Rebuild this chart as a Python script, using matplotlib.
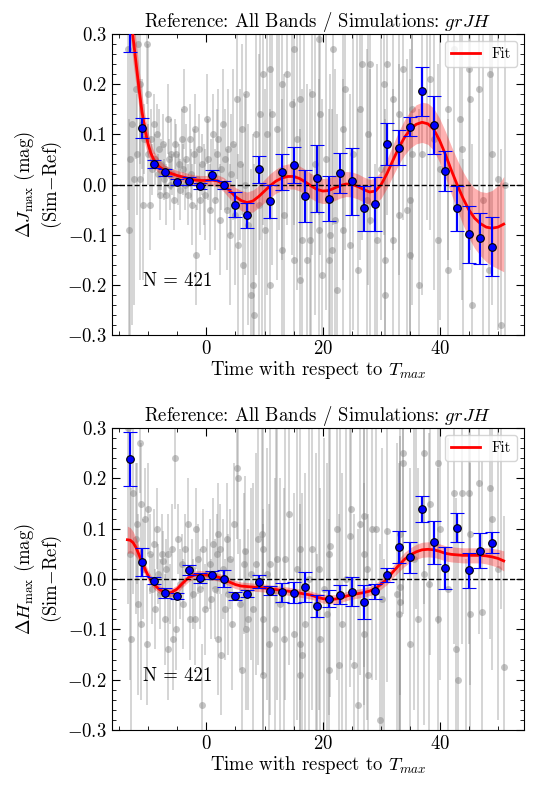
import numpy as np
import matplotlib
matplotlib.use("Agg")
import matplotlib.pyplot as plt
from matplotlib.ticker import MultipleLocator

plt.rcParams['font.family'] = 'cmr10'
plt.rcParams['mathtext.fontset'] = 'cm'
plt.rcParams['axes.formatter.use_mathtext'] = True
plt.rcParams['font.size'] = 13.5

# ---------------- data ----------------
bin_t = np.arange(-13, 50, 2)

j_bin = [0.32, 0.112, 0.041, 0.024, 0.005, 0.007, -0.003, 0.019, -0.001, -0.040,
         -0.061, 0.030, -0.033, 0.025, 0.039, -0.023, 0.012, -0.028, 0.023, 0.006,
         -0.047, -0.039, 0.081, 0.073, 0.115, 0.186, 0.119, 0.027, -0.047, -0.099,
         -0.107, -0.124]
j_bin_err = [0.056, 0.020, 0.008, 0.007, 0.006, 0.007, 0.006, 0.010, 0.008, 0.025,
             0.025, 0.027, 0.033, 0.036, 0.036, 0.052, 0.067, 0.044, 0.040, 0.067,
             0.045, 0.053, 0.042, 0.035, 0.019, 0.049, 0.058, 0.039, 0.045, 0.057,
             0.051, 0.059]

h_bin = [0.239, 0.034, -0.003, -0.027, -0.033, 0.017, 0.002, 0.008, 0.001, -0.033,
         -0.029, -0.005, -0.023, -0.026, -0.027, -0.016, -0.053, -0.039, -0.031, -0.025,
         -0.045, -0.024, 0.008, 0.063, 0.043, 0.139, 0.073, 0.022, 0.102, 0.017,
         0.056, 0.072]
h_bin_err = [0.054, 0.028, 0.007, 0.010, 0.006, 0.010, 0.010, 0.008, 0.016, 0.008,
             0.007, 0.013, 0.009, 0.019, 0.021, 0.029, 0.022, 0.017, 0.019, 0.029,
             0.034, 0.015, 0.013, 0.032, 0.031, 0.025, 0.043, 0.041, 0.029, 0.034,
             0.035, 0.021]

fit_t = [-13.5, -13, -12.5, -12, -11.5, -11, -10.5, -10, -9.5, -9, -8, -7, -6, -5, -4,
         -3, -2, -1, 0, 1, 2, 3, 4, 5, 6, 7, 8, 9, 10, 11, 12, 13, 14, 15, 16, 17, 18,
         19, 20, 21, 22, 23, 24, 25, 26, 27, 28, 29, 30, 31, 32, 33, 34, 35, 36, 37, 38,
         39, 40, 41, 42, 43, 44, 45, 46, 47, 48, 49, 50, 51]

j_fit = [0.42, 0.36, 0.29, 0.24, 0.19, 0.145, 0.11, 0.083, 0.063, 0.050, 0.035, 0.027,
         0.022, 0.018, 0.015, 0.012, 0.009, 0.008, 0.008, 0.009, 0.007, 0.000, -0.012,
         -0.024, -0.032, -0.036, -0.033, -0.024, -0.013, -0.002, 0.007, 0.013, 0.016,
         0.016, 0.012, 0.005, -0.003, -0.010, -0.013, -0.012, -0.007, -0.002, 0.001,
         0.000, -0.004, -0.010, -0.015, -0.013, 0.000, 0.022, 0.048, 0.073, 0.094,
         0.110, 0.120, 0.124, 0.121, 0.110, 0.088, 0.060, 0.029, 0.000, -0.027, -0.050,
         -0.067, -0.078, -0.085, -0.087, -0.085, -0.079]
j_fit_err = [0.07, 0.06, 0.05, 0.045, 0.04, 0.035, 0.03, 0.025, 0.02, 0.017, 0.013, 0.011,
             0.010, 0.010, 0.010, 0.010, 0.010, 0.010, 0.010, 0.011, 0.012, 0.014, 0.016,
             0.018, 0.020, 0.021, 0.022, 0.022, 0.023, 0.024, 0.024, 0.025, 0.025, 0.025,
             0.025, 0.025, 0.025, 0.025, 0.025, 0.025, 0.025, 0.025, 0.025, 0.025,
             0.025, 0.025, 0.025, 0.026, 0.027, 0.029, 0.031, 0.033, 0.035, 0.037,
             0.039, 0.040, 0.041, 0.042, 0.044, 0.046, 0.048, 0.050, 0.053, 0.056,
             0.060, 0.064, 0.069, 0.075, 0.083, 0.095]

h_fit = [0.078, 0.077, 0.072, 0.062, 0.048, 0.033, 0.020, 0.008, -0.002, -0.010, -0.021,
         -0.027, -0.027, -0.020, -0.008, 0.003, 0.008, 0.009, 0.008, 0.006, 0.004, 0.000,
         -0.006, -0.011, -0.014, -0.015, -0.016, -0.017, -0.018, -0.020, -0.021, -0.023,
         -0.024, -0.026, -0.028, -0.030, -0.032, -0.036, -0.039, -0.040, -0.040, -0.038,
         -0.034, -0.031, -0.029, -0.027, -0.024, -0.019, -0.010, 0.000, 0.014, 0.027,
         0.039, 0.048, 0.054, 0.058, 0.059, 0.058, 0.055, 0.051, 0.049, 0.048, 0.047,
         0.047, 0.047, 0.047, 0.046, 0.044, 0.041, 0.036]
h_fit_err = [0.027, 0.025, 0.022, 0.019, 0.016, 0.014, 0.012, 0.011, 0.010, 0.009, 0.008,
             0.008, 0.008, 0.008, 0.008, 0.008, 0.008, 0.008, 0.008, 0.008, 0.008, 0.008,
             0.008, 0.008, 0.008, 0.008, 0.008, 0.008, 0.008, 0.008, 0.008, 0.008,
             0.008, 0.008, 0.008, 0.008, 0.008, 0.008, 0.009, 0.009, 0.009, 0.009,
             0.009, 0.009, 0.009, 0.009, 0.009, 0.010, 0.010, 0.011, 0.012, 0.013,
             0.014, 0.014, 0.015, 0.015, 0.015, 0.015, 0.015, 0.015, 0.015, 0.015,
             0.015, 0.015, 0.015, 0.015, 0.016, 0.017, 0.018, 0.020]

# individual SNe (grey points): time, residual, uncertainty
j_pt_t = [-13.4, -13.2, -13.0, -12.7, -12.4, -12.1, -11.8, -11.6, -11.4, -11.3,
          -11.0, -10.8, -10.6, -10.2, -10.0, -9.9, -9.6, -9.4, -9.2,
          -8.9, -8.7, -8.5, -8.3, -8.1, -7.9, -7.7, -7.4, -7.2, -7.0,
          -6.8, -6.6, -6.4, -6.2, -6.0, -5.8, -5.5, -5.4, -5.1, -4.9,
          -4.7, -4.4, -4.2, -3.9, -3.8, -3.6, -3.4, -3.1, -2.8, -2.6,
          -2.4, -2.1, -1.9, -1.8, -1.5, -1.2, -1.0, -0.7, -0.4, -0.2,
          0.1, 0.3, 0.6, 0.9, 1.2, 1.5, 1.8, 2.1, 2.3, 2.6,
          2.9, 3.2, 3.5, 3.8, 4.1, 4.3, 4.6, 4.9, 5.2, 5.5,
          5.8, 6.1, 6.3, 6.6, 6.9, 7.2,
          7.6, 8.0, 8.2, 8.6, 9.0, 9.3, 9.8, 10.1, 10.4, 11.0,
          11.0, 11.3, 12.1, 13.0, 13.0, 13.3, 13.8, 14.7, 15.0, 15.0,
          15.5, 16.1, 16.1, 16.4, 17.3, 17.8, 18.1, 18.6, 19.3, 19.3,
          19.5, 19.8, 20.5, 21.0, 21.3, 21.6, 21.8, 22.1, 22.4, 23.5,
          23.5, 23.8, 24.7, 25.2, 26.1, 26.4, 26.7, 27.5, 27.8, 28.1,
          28.1, 29.3, 30.0, 30.4, 30.7, 30.7, 31.0,
          32.1, 32.1, 33.0, 33.0, 33.8, 34.4, 35.0, 35.0, 35.3, 35.3,
          36.5, 37.0, 38.4, 39.0, 39.8, 40.1, 41.5, 41.5, 42.5, 43.5,
          43.8, 45.0, 45.3, 45.6, 46.7, 47.5, 48.4, 48.7, 49.0, 50.1,
          50.6, 51.3,
          9.5, 12.5, 16.8, 18.0, 25.8, 29.0, 37.8, 44.0]
j_pt_y = [0.27, -0.09, 0.05, 0.12, 0.01, 0.19, 0.06, 0.28, 0.20, 0.01,
          0.12, -0.04, 0.09, 0.28, 0.06, 0.18, -0.04, 0.09, 0.03,
          0.12, 0.05, 0.10, 0.02, 0.07, -0.02, 0.04, 0.08, 0.01, 0.03,
          -0.02, 0.13, 0.05, 0.00, 0.06, 0.02, -0.03, 0.08, 0.06, 0.01,
          0.04, -0.01, 0.09, 0.03, 0.15, 0.00, 0.05, -0.02, 0.09, 0.02,
          -0.04, 0.06, 0.11, -0.14, 0.01, 0.07, -0.03, 0.04, 0.00, -0.02,
          0.13, 0.05, -0.05, 0.02, 0.10, -0.03, 0.06, 0.09, -0.07, 0.03,
          0.12, 0.05, -0.05, 0.07, -0.10, 0.02, 0.08, -0.06, 0.17, -0.12,
          0.04, 0.11, -0.16, 0.00, 0.18, -0.08,
          -0.22, -0.20, -0.26, 0.10, -0.04, 0.14, 0.22, -0.09, 0.10, 0.23,
          -0.20, 0.14, 0.11, 0.20, -0.13, -0.06, 0.22, 0.16, 0.27, -0.15,
          0.09, 0.17, -0.19, -0.11, -0.15, -0.11, 0.18, 0.04, 0.29, -0.09,
          0.14, -0.18, 0.05, -0.15, -0.10, -0.13, 0.27, -0.07, -0.21, 0.11,
          -0.09, 0.19, -0.12, 0.06, -0.17, 0.15, 0.24, -0.03, 0.10, 0.24,
          -0.07, -0.11, 0.03, 0.20, -0.15, -0.22, 0.24,
          0.17, -0.11, 0.14, -0.06, 0.23, -0.05, -0.14, -0.03, 0.15, 0.06,
          -0.20, 0.06, 0.21, 0.09, -0.11, 0.03, 0.15, -0.17, 0.27, 0.13,
          0.07, 0.23, 0.17, -0.24, 0.19, -0.03, -0.17, 0.22, 0.06, 0.01,
          -0.28, 0.00,
          -0.33, 0.36, 0.33, -0.38, 0.34, -0.36, 0.33, -0.35]
j_pt_e = [0.32, 0.22, 0.35, 0.40, 0.25, 0.14, 0.12, 0.10, 0.16, 0.20,
          0.09, 0.15, 0.07, 0.12, 0.06, 0.10, 0.09, 0.06, 0.05,
          0.06, 0.05, 0.06, 0.04, 0.08, 0.05, 0.05, 0.06, 0.04, 0.05,
          0.06, 0.07, 0.04, 0.05, 0.07, 0.04, 0.06, 0.05, 0.06, 0.05,
          0.04, 0.06, 0.06, 0.05, 0.08, 0.05, 0.07, 0.06, 0.07, 0.05,
          0.08, 0.05, 0.07, 0.10, 0.06, 0.07, 0.07, 0.06, 0.08, 0.09,
          0.09, 0.08, 0.09, 0.07, 0.08, 0.10, 0.09, 0.10, 0.11, 0.08,
          0.11, 0.10, 0.12, 0.12, 0.14, 0.12, 0.15, 0.14, 0.16, 0.18,
          0.15, 0.17, 0.20, 0.18, 0.22, 0.20,
          0.25, 0.30, 0.30, 0.28, 0.30, 0.25, 0.30, 0.28, 0.32, 0.30,
          0.35, 0.30, 0.30, 0.35, 0.30, 0.28, 0.30, 0.30, 0.35, 0.32,
          0.30, 0.35, 0.30, 0.30, 0.35, 0.30, 0.32, 0.30, 0.35, 0.30,
          0.28, 0.35, 0.30, 0.30, 0.32, 0.28, 0.35, 0.30, 0.35, 0.30,
          0.30, 0.32, 0.30, 0.35, 0.32, 0.30, 0.35, 0.30, 0.30, 0.32,
          0.30, 0.35, 0.30, 0.30, 0.30, 0.35, 0.30,
          0.30, 0.30, 0.32, 0.30, 0.30, 0.30, 0.35, 0.30, 0.30, 0.30,
          0.35, 0.28, 0.30, 0.30, 0.35, 0.30, 0.30, 0.30, 0.32, 0.30,
          0.30, 0.35, 0.30, 0.32, 0.30, 0.35, 0.30, 0.30, 0.30, 0.30,
          0.35, 0.30,
          0.35, 0.45, 0.35, 0.40, 0.40, 0.40, 0.40, 0.40]

h_pt_t = [-13.4, -13.1, -12.8, -12.5, -12.1, -11.9, -11.6, -11.3, -11.1, -11.1,
          -10.8, -10.5, -10.2, -9.9, -9.6, -9.3,
          -9.0, -8.7, -8.5, -8.2, -7.9, -7.6, -7.4, -7.1, -6.8, -6.5,
          -6.5, -6.2, -5.9, -5.6, -5.4, -5.1, -4.8, -4.5, -4.2, -3.9,
          -3.6, -3.1, -2.8, -2.5, -2.2, -1.9, -1.7, -1.4, -1.1, -0.8,
          -0.5, -0.2, 0.1, 0.6, 0.9, 1.2, 1.5, 1.8, 2.1, 2.1,
          2.3, 2.6, 2.9, 3.2, 3.5, 3.8, 4.1, 4.4, 4.7, 5.2,
          5.5, 5.8, 6.1, 6.4, 6.6, 6.9, 7.2, 7.6,
          8.1, 8.5, 8.9, 9.5, 9.8, 9.8, 9.8, 10.4, 10.7, 11.0,
          11.8, 12.1, 12.6, 13.3, 13.5, 14.2, 15.0, 15.5, 16.1, 16.1,
          16.4, 16.1, 17.0, 17.6, 18.1, 18.8, 19.3, 19.5, 20.2, 20.7,
          21.0, 21.0, 21.3, 22.4, 22.7, 23.2, 24.0, 24.7, 24.9, 25.3,
          26.1, 26.4, 27.0, 27.0, 27.0, 27.6, 27.8, 28.4, 29.1, 29.8,
          30.2, 31.0,
          32.7, 33.0, 33.3, 33.3, 33.3, 33.8, 33.8, 35.0, 35.6, 36.3,
          37.3, 37.3, 38.2, 38.4, 39.7, 39.8, 40.1, 41.5, 42.4, 42.9,
          43.1, 43.8, 45.1, 45.3, 45.3, 46.8, 47.3, 48.7, 49.0, 50.0,
          51.0,
          12.0, 19.0, 23.0, 30.5, 36.0, 44.5, 50.5]
h_pt_y = [0.30, 0.05, -0.12, 0.17, 0.08, 0.11, -0.05, 0.27, 0.15, -0.09,
          0.02, 0.12, -0.13, 0.14, 0.05, -0.02,
          0.07, -0.06, 0.10, 0.01, -0.03, 0.05, 0.035, -0.08, 0.02, 0.05,
          -0.14, -0.03, 0.06, -0.12, 0.24, -0.10, 0.08, -0.01, 0.03, -0.05,
          0.06, 0.11, -0.08, 0.02, -0.03, -0.08, 0.10, 0.04, -0.02, -0.25,
          0.06, -0.06, 0.01, 0.03, -0.04, 0.07, -0.02, 0.05, 0.09, -0.12,
          0.06, -0.15, 0.02, -0.06, 0.08, -0.03, 0.04, -0.09, 0.11, 0.22,
          0.20, -0.05, -0.18, 0.03, 0.055, -0.10, -0.08, 0.01,
          -0.06, 0.03, 0.08, 0.09, 0.06, -0.08, -0.19, 0.01, -0.13, 0.03,
          -0.10, 0.04, -0.05, -0.12, 0.04, 0.13, -0.11, 0.02, 0.06, -0.13,
          -0.15, -0.19, -0.09, 0.00, 0.06, -0.05, 0.02, -0.12, -0.02, -0.07,
          0.05, -0.18, 0.065, 0.10, -0.17, -0.09, 0.00, 0.085, 0.14, -0.17,
          -0.25, 0.11, 0.125, 0.05, -0.11, 0.02, -0.19, 0.10, 0.10, -0.28,
          -0.04, 0.095,
          -0.03, -0.07, 0.09, -0.015, -0.045, 0.25, 0.23, -0.13, 0.04, -0.08,
          0.25, 0.01, -0.01, 0.15, -0.08, 0.23, 0.10, -0.02, 0.17, -0.14,
          -0.20, 0.17, 0.17, 0.09, -0.07, 0.19, -0.065, 0.18, 0.12, 0.02,
          -0.175,
          0.35, -0.35, 0.36, -0.34, 0.34, -0.36, 0.34]
h_pt_e = [0.35, 0.25, 0.30, 0.20, 0.15, 0.12, 0.18, 0.10, 0.12, 0.15,
          0.10, 0.10, 0.12, 0.09, 0.08, 0.07,
          0.07, 0.08, 0.08, 0.06, 0.07, 0.08, 0.06, 0.09, 0.06, 0.08,
          0.10, 0.06, 0.09, 0.10, 0.10, 0.08, 0.07, 0.07, 0.06, 0.09,
          0.07, 0.09, 0.08, 0.06, 0.07, 0.09, 0.08, 0.07, 0.08, 0.12,
          0.08, 0.09, 0.07, 0.09, 0.08, 0.09, 0.10, 0.08, 0.10, 0.11,
          0.09, 0.12, 0.10, 0.10, 0.11, 0.12, 0.10, 0.13, 0.12, 0.14,
          0.15, 0.13, 0.16, 0.14, 0.15, 0.16, 0.18, 0.17,
          0.25, 0.22, 0.25, 0.28, 0.25, 0.22, 0.30, 0.25, 0.28, 0.30,
          0.30, 0.28, 0.25, 0.30, 0.28, 0.30, 0.28, 0.30, 0.30, 0.28,
          0.32, 0.30, 0.30, 0.30, 0.32, 0.30, 0.28, 0.30, 0.30, 0.30,
          0.32, 0.30, 0.30, 0.30, 0.30, 0.30, 0.32, 0.30, 0.30, 0.30,
          0.35, 0.30, 0.30, 0.30, 0.30, 0.30, 0.32, 0.30, 0.30, 0.35,
          0.30, 0.30,
          0.30, 0.30, 0.32, 0.30, 0.28, 0.30, 0.30, 0.35, 0.30, 0.30,
          0.30, 0.30, 0.30, 0.30, 0.30, 0.32, 0.30, 0.30, 0.30, 0.30,
          0.30, 0.30, 0.30, 0.30, 0.30, 0.30, 0.30, 0.30, 0.30, 0.30,
          0.30,
          0.40, 0.40, 0.40, 0.38, 0.40, 0.40, 0.40]

n_sn = 421
title = "Reference: All Bands / Simulations: $grJH$"

panels = [
    (j_pt_t, j_pt_y, j_pt_e, j_bin, j_bin_err, j_fit, j_fit_err,
     "$\\Delta J_{\\rm max}$ (mag)\n(Sim$-$Ref)"),
    (h_pt_t, h_pt_y, h_pt_e, h_bin, h_bin_err, h_fit, h_fit_err,
     "$\\Delta H_{\\rm max}$ (mag)\n(Sim$-$Ref)"),
]

fig = plt.figure(figsize=(5.5, 7.91), dpi=100)
axes = [fig.add_axes([0.203, 0.5765, 0.750, 0.3805]),
        fig.add_axes([0.203, 0.0771, 0.750, 0.3818])]

for ax, (pt, py, pe, by, be, fy, fe, ylab) in zip(axes, panels):
    # individual objects
    ax.errorbar(pt, py, yerr=pe, fmt='none', ecolor='gray', elinewidth=1.3,
                alpha=0.35, zorder=1)
    ax.plot(pt, py, 'o', color='gray', ms=5, alpha=0.45, mec='none', zorder=1)

    # fit with uncertainty band
    fy = np.array(fy)
    fe = np.array(fe)
    ax.fill_between(fit_t, fy - fe, fy + fe, color='red', alpha=0.3, lw=0, zorder=2)
    ax.plot(fit_t, fy, color='red', lw=2, label='Fit', zorder=3)

    # binned means
    ax.errorbar(bin_t, by, yerr=be, fmt='o', color='blue', mfc='blue', mec='black',
                mew=0.8, ms=5.5, ecolor='blue', elinewidth=1.6, capsize=5,
                capthick=1.6, zorder=4)

    ax.axhline(0, color='black', ls='--', lw=1, zorder=3)

    ax.set_xlim(-16.2, 54.5)
    ax.set_ylim(-0.3, 0.3)
    ax.xaxis.set_major_locator(MultipleLocator(20))
    ax.xaxis.set_minor_locator(MultipleLocator(5))
    ax.yaxis.set_major_locator(MultipleLocator(0.1))
    ax.yaxis.set_minor_locator(MultipleLocator(0.02))
    ax.tick_params(which='both', direction='in', top=True, right=True, labelsize=13.5)
    ax.tick_params(which='major', length=6)
    ax.tick_params(which='minor', length=3)

    ax.set_title(title, fontsize=13.5, pad=3)
    ax.set_xlabel("Time with respect to $T_{max}$", fontsize=13.5, labelpad=1)
    ax.set_ylabel(ylab, fontsize=13.5, labelpad=2)
    ax.text(0.076, 0.18, "N = %d" % n_sn, transform=ax.transAxes, fontsize=13.5,
            va='center', ha='left')
    ax.legend(loc='upper right', fontsize=10.5, handlelength=2.0, borderpad=0.4)

fig.savefig("out.png", dpi=100)
